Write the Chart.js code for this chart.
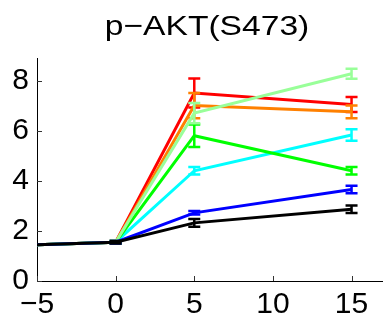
<!DOCTYPE html>
<html>
<head>
<meta charset="utf-8">
<script src="https://cdn.jsdelivr.net/npm/chart.js@4"></script>
<style>
  body { margin: 0; background: #fff; }
  canvas { display: block; }
</style>
</head>
<body>
<canvas id="akt-chart" width="383" height="327"></canvas>
<script>
// DATA

const titleText = "p\u2212AKT(S473)";
const times = [-5, 0, 5, 15];
const xTicks = [-5, 0, 5, 10, 15];
const yTicks = [0, 2, 4, 6, 8];

const seriesColors = ['#ff0000', '#ff8000', '#00ffff', '#00ff00', '#99ff99', '#0000ff', '#000000'];

const redVals = [1.45, 1.55, 7.5, 7.04];
const redErr = [0, 0.05, 0.58, 0.3];
const orangeVals = [1.45, 1.55, 7.0, 6.75];
const orangeErr = [0, 0.05, 0.5, 0.25];
const cyanVals = [1.45, 1.55, 4.4, 5.83];
const cyanErr = [0, 0.05, 0.15, 0.23];
const greenVals = [1.45, 1.55, 5.8, 4.4];
const greenErr = [0, 0.05, 0.45, 0.15];
const lightGreenVals = [1.45, 1.55, 6.7, 8.27];
const lightGreenErr = [0, 0.05, 0.4, 0.2];
const blueVals = [1.45, 1.55, 2.72, 3.65];
const blueErr = [0, 0.05, 0.07, 0.15];
const blackVals = [1.45, 1.55, 2.32, 2.86];
const blackErr = [0, 0.05, 0.15, 0.15];

const allVals = [redVals, orangeVals, cyanVals, greenVals, lightGreenVals, blueVals, blackVals];
const allErr = [redErr, orangeErr, cyanErr, greenErr, lightGreenErr, blueErr, blackErr];

const canvas = document.getElementById("akt-chart");
const fontFamily = "'Liberation Sans', Arial, sans-serif";

// PLUGINS

// error bars drawn right after each line, so stacking order stays the same
const errorBars = {
    id: 'errorBars',
    afterDatasetDraw(chart, args) {
        const ctx = chart.ctx;
        const ds = chart.data.datasets[args.index];
        const y = chart.scales.y;
        const err = ds.err;
        ctx.save();
        ctx.strokeStyle = ds.borderColor;
        ctx.lineWidth = 2.5;
        args.meta.data.forEach((pt, i) => {
            if (!err[i]) return;
            const v = ds.data[i].y;
            const top = y.getPixelForValue(v + err[i]);
            const bot = y.getPixelForValue(v - err[i]);
            ctx.beginPath();
            ctx.moveTo(pt.x, top);
            ctx.lineTo(pt.x, bot);
            ctx.moveTo(pt.x - 6, top);
            ctx.lineTo(pt.x + 6, top);
            ctx.moveTo(pt.x - 6, bot);
            ctx.lineTo(pt.x + 6, bot);
            ctx.stroke();
        });
        ctx.restore();
    }
};

// inward tick marks and the title
const decorations = {
    id: 'decorations',
    afterDraw(chart) {
        const ctx = chart.ctx;
        const area = chart.chartArea;
        const x = chart.scales.x;
        const y = chart.scales.y;
        ctx.save();
        ctx.strokeStyle = '#333';
        ctx.lineWidth = 1;
        ctx.beginPath();
        xTicks.forEach(t => {
            const px = Math.round(x.getPixelForValue(t)) + 0.5;
            ctx.moveTo(px, area.bottom);
            ctx.lineTo(px, area.bottom - 5);
        });
        yTicks.forEach(t => {
            const py = Math.round(y.getPixelForValue(t)) + 0.5;
            ctx.moveTo(area.left, py);
            ctx.lineTo(area.left + 5, py);
        });
        ctx.stroke();

        ctx.fillStyle = '#000';
        ctx.font = "28px " + fontFamily;
        ctx.textAlign = 'center';
        ctx.textBaseline = 'alphabetic';
        ctx.translate(207, 35);
        ctx.scale(1.2, 1);
        ctx.fillText(titleText, 0, 0);
        ctx.restore();
    }
};

// CHART

const lineData = {
    datasets: allVals.map((vals, i) => ({
        data: vals.map((v, j) => ({ x: times[j], y: v })),
        err: allErr[i],
        order: -i,   // later series on top, black last
        borderColor: seriesColors[i],
        borderWidth: 3,
        pointRadius: 0,
        tension: 0,
        fill: false
    }))
};

const lineOptions = {
    responsive: false,
    animation: false,
    layout: {
        padding: { top: 58, left: 0, right: 0, bottom: 0 }
    },
    scales: {
        x: {
            type: 'linear',
            min: -5,
            max: 17,
            afterBuildTicks: (scale) => { scale.ticks = xTicks.map(v => ({ value: v })); },
            afterFit: (scale) => { scale.height = 46; },
            grid: { display: false, drawTicks: false },
            border: { display: true, color: '#000', width: 1 },
            ticks: {
                padding: 6,
                color: '#000',
                font: { family: fontFamily, size: 30 },
                maxRotation: 0,
                callback: (v) => String(v).replace('-', '\u2212')
            }
        },
        y: {
            type: 'linear',
            min: 0,
            max: 8.9,
            afterBuildTicks: (scale) => { scale.ticks = yTicks.map(v => ({ value: v })); },
            afterFit: (scale) => { scale.width = 37; },
            grid: { display: false, drawTicks: false },
            border: { display: true, color: '#000', width: 1 },
            ticks: {
                padding: 8,
                color: '#000',
                font: { family: fontFamily, size: 30 }
            }
        }
    },
    plugins: {
        legend: { display: false },
        title: { display: false },
        tooltip: { enabled: false }
    }
};

let aktChart = new Chart(canvas, {
    type: 'line',
    data: lineData,
    options: lineOptions,
    plugins: [errorBars, decorations]
});
</script>
</body>
</html>
